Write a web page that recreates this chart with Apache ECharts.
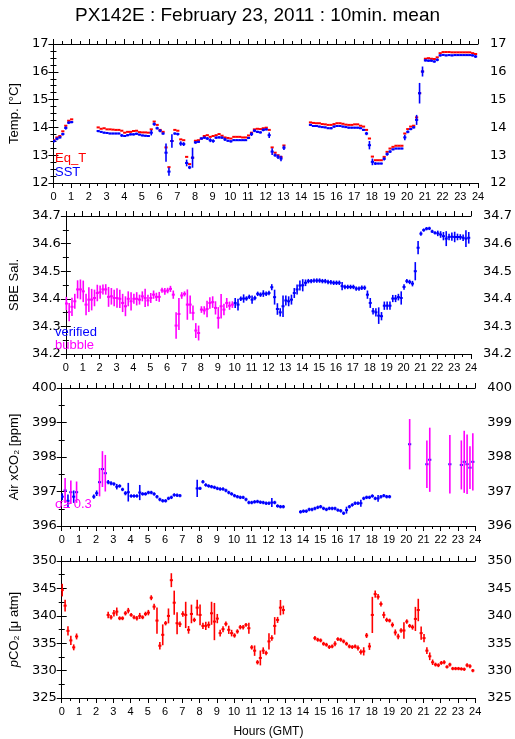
<!DOCTYPE html>
<html><head><meta charset="utf-8">
<script src="https://cdn.jsdelivr.net/npm/echarts@6/dist/echarts.min.js"></script>
<style>html,body{margin:0;padding:0;background:#fff}#c{width:515px;height:739px}</style>
</head><body><div id="c"></div>
<script>
// time of slot i = T0 + i*STEP hours (10-minute means)
const T0 = 0.03, STEP = 1/6;
const hourTicks = [0,1,2,3,4,5,6,7,8,9,10,11,12,13,14,15,16,17,18,19,20,21,22,23,24];
const _ = null;

// Panel 1: temperatures
const eqT = [13.54,13.64,13.69,13.86,14.06,14.24,14.29,_,_,_,_,_,_,_,_,
14.00,13.95,13.97,13.93,13.93,13.92,13.91,13.91,13.88,13.81,
13.84,13.84,13.87,13.88,13.83,13.82,13.82,13.81,13.93,14.21,
14.09,13.91,13.84,13.28,12.57,13.51,13.91,13.88,13.57,13.54,
12.94,12.68,12.91,13.52,13.54,13.60,13.69,13.72,13.66,13.69,
13.72,13.76,13.70,13.64,13.62,13.60,13.66,13.66,13.66,13.64,
13.64,13.71,13.81,13.93,13.95,13.94,13.97,13.99,13.91,13.28,
13.09,13.00,12.94,13.35,_,_,_,_,_,_,_,_,
14.18,14.16,14.15,14.15,14.12,14.11,14.09,14.09,14.12,14.15,
14.15,14.13,14.10,14.09,14.09,14.11,14.11,14.06,14.03,13.91,
13.60,12.95,12.82,12.82,12.82,12.94,13.12,13.24,13.30,13.34,
13.34,13.34,13.78,13.94,14.03,14.06,14.36,15.23,16.01,16.47,
16.49,16.47,16.46,16.52,16.67,16.71,16.71,16.71,16.70,16.70,
16.70,16.70,16.70,16.70,16.70,16.67,16.64];
const sst = [13.51,13.59,13.64,13.76,13.98,14.17,14.19,_,_,_,_,_,_,_,_,
13.87,13.84,13.81,13.80,13.78,13.78,13.78,13.78,13.71,13.69,
13.72,13.75,13.75,13.77,13.74,13.71,13.70,13.69,13.81,14.12,
13.97,13.88,13.78,13.09,12.41,13.51,13.78,13.76,13.42,13.40,
12.72,12.56,12.91,13.46,13.48,13.60,13.63,13.60,13.54,13.51,
13.63,13.64,13.63,13.57,13.52,13.50,13.54,13.54,13.54,13.54,
13.54,13.62,13.76,13.88,13.84,13.82,13.91,13.93,13.72,13.13,
13.00,12.94,12.88,13.27,_,_,_,_,_,_,_,_,
14.09,14.05,14.05,14.03,14.01,14.00,13.97,13.97,14.03,14.05,
14.05,14.03,14.01,13.99,13.99,13.99,13.99,13.97,13.91,13.78,
13.36,12.76,12.70,12.70,12.70,12.87,13.04,13.13,13.21,13.24,
13.24,13.24,13.64,13.84,13.94,14.00,14.27,15.23,16.01,16.41,
16.40,16.40,16.37,16.43,16.59,16.61,16.59,16.60,16.59,16.60,
16.60,16.60,16.60,16.60,16.60,16.59,16.55];
const sstSig = [0.05,0.05,0.04,0.05,0.06,0.05,0.04,_,_,_,_,_,_,_,_,
0.04,0.03,0.03,0.03,0.03,0.03,0.03,0.03,0.05,0.03,
0.04,0.04,0.04,0.04,0.03,0.03,0.03,0.03,0.10,0.06,
0.05,0.05,0.04,0.33,0.15,0.24,0.04,0.05,0.08,0.07,
0.12,0.06,0.36,0.05,0.04,0.04,0.04,0.05,0.07,0.06,
0.04,0.04,0.04,0.06,0.04,0.04,0.03,0.03,0.03,0.03,
0.03,0.04,0.07,0.05,0.04,0.04,0.05,0.04,0.10,0.12,
0.06,0.08,0.10,0.08,_,_,_,_,_,_,_,_,
0.04,0.03,0.03,0.03,0.03,0.03,0.03,0.04,0.04,0.03,
0.03,0.03,0.03,0.03,0.03,0.03,0.03,0.03,0.04,0.06,
0.15,0.12,0.05,0.03,0.03,0.06,0.06,0.05,0.03,0.03,
0.03,0.03,0.10,0.05,0.04,0.04,0.18,0.37,0.18,0.04,
0.04,0.04,0.04,0.05,0.04,0.03,0.03,0.03,0.03,0.03,
0.03,0.03,0.03,0.03,0.03,0.04,0.05];

// Panel 2: SBE salinity; bubble-flagged slots 0-59, verified slots 60-143
const salBubbleStart = 0;
const salBubble = [34.383,34.352,34.371,34.391,34.434,34.434,34.427,34.379,34.397,34.397,
34.403,34.421,34.424,34.434,34.434,34.407,34.409,34.403,34.403,34.400,
34.385,34.373,34.400,34.391,34.400,34.400,34.397,34.409,34.403,34.394,
34.403,34.415,34.407,34.407,34.431,34.427,34.430,34.436,34.415,34.303,
34.345,34.412,34.418,34.379,34.379,34.349,34.285,34.276,34.361,34.358,
34.363,34.385,34.388,34.367,34.331,34.373,34.361,34.385,34.375,34.379];
const salBubbleSig = [0.024,0.033,0.033,0.027,0.033,0.036,0.039,0.039,0.045,0.039,
0.030,0.030,0.024,0.018,0.019,0.036,0.030,0.030,0.035,0.033,
0.033,0.036,0.027,0.033,0.018,0.024,0.018,0.018,0.033,0.021,
0.018,0.015,0.015,0.018,0.009,0.012,0.010,0.011,0.015,0.048,
0.058,0.012,0.009,0.055,0.033,0.027,0.027,0.027,0.012,0.015,
0.030,0.021,0.021,0.024,0.039,0.044,0.021,0.018,0.015,0.012];
const salVerifiedStart = 60;
const salVerified = [34.385,34.379,34.400,34.401,34.401,34.407,34.397,34.403,34.418,34.415,
34.419,34.418,34.421,34.442,34.406,34.363,34.351,34.373,34.394,34.391,
34.397,34.421,34.434,34.448,34.449,34.458,34.464,34.464,34.466,34.466,
34.466,34.464,34.464,34.461,34.460,34.458,34.458,34.458,34.446,34.443,
34.443,34.443,34.443,34.437,34.437,34.440,34.440,34.415,34.385,34.355,
34.351,34.339,34.337,34.375,34.375,34.375,34.401,34.401,34.406,34.403,
34.443,34.464,34.461,34.455,34.500,34.585,34.636,34.649,34.654,34.655,
34.644,34.639,34.637,34.633,34.627,34.618,34.624,34.625,34.624,34.624,
34.624,34.621,34.618,34.621];
const salVerifiedSig = [0.018,0.021,0.008,0.015,0.008,0.008,0.015,0.008,0.008,0.008,
0.012,0.008,0.008,0.011,0.027,0.021,0.015,0.039,0.018,0.018,
0.018,0.018,0.018,0.018,0.022,0.012,0.008,0.008,0.008,0.008,
0.008,0.008,0.008,0.008,0.008,0.008,0.008,0.008,0.015,0.008,
0.008,0.008,0.008,0.008,0.008,0.008,0.008,0.015,0.018,0.012,
0.015,0.030,0.015,0.015,0.015,0.015,0.013,0.013,0.012,0.024,
0.010,0.008,0.008,0.010,0.033,0.024,0.008,0.006,0.006,0.006,
0.006,0.006,0.010,0.012,0.015,0.027,0.012,0.015,0.019,0.012,
0.010,0.012,0.030,0.021];

// Panel 3: atmospheric xCO2 (error bars magenta when sigma > 0.3)
const sigmaLimit = 0.3;
const xco2 = [396.85,397.03,396.73,396.98,396.85,396.98,_,_,_,_,_,
396.85,396.95,397.27,397.65,397.53,397.27,397.24,397.22,397.14,397.16,
397.06,396.95,396.98,396.87,396.87,396.87,396.97,396.93,396.93,396.97,
396.97,396.93,396.85,396.77,396.73,396.73,396.80,396.83,396.90,396.89,396.88,_,_,_,_,_,
397.09,397.09,397.28,397.19,397.16,397.14,397.12,397.09,397.07,397.07,
397.03,396.97,396.93,396.88,396.85,396.83,396.83,396.77,396.68,396.68,
396.70,396.71,396.69,396.68,396.66,396.66,396.68,396.68,396.58,396.56,396.56,_,_,_,_,_,
396.41,396.43,396.43,396.48,396.48,396.51,396.54,396.56,396.51,396.48,
396.51,396.51,396.51,396.46,396.44,396.37,396.46,396.56,396.61,396.66,
396.66,396.66,396.80,396.83,396.83,396.87,396.80,396.80,396.85,396.88,396.85,396.85,
_,_,_,_,_,_,398.37,_,_,_,_,_,397.79,397.92,_,_,_,_,_,_,397.79,_,_,_,
397.77,397.86,397.79,397.69,397.86];
const xco2Sig = [0.10,0.36,0.18,0.34,0.18,0.31,_,_,_,_,_,
0.06,0.08,0.41,0.52,0.53,0.06,0.06,0.05,0.08,0.05,
0.05,0.06,0.27,0.05,0.05,0.05,0.22,0.05,0.05,0.05,
0.05,0.05,0.05,0.05,0.05,0.05,0.05,0.05,0.05,0.05,0.05,_,_,_,_,_,
0.25,0.05,0.05,0.05,0.05,0.05,0.05,0.05,0.05,0.05,
0.05,0.05,0.05,0.05,0.05,0.05,0.05,0.05,0.05,0.05,
0.05,0.05,0.05,0.05,0.05,0.05,0.13,0.05,0.05,0.05,0.05,_,_,_,_,_,
0.05,0.05,0.05,0.05,0.05,0.05,0.05,0.05,0.05,0.05,
0.05,0.05,0.05,0.05,0.05,0.05,0.10,0.05,0.05,0.05,
0.05,0.10,0.05,0.05,0.05,0.05,0.05,0.10,0.05,0.05,0.05,0.05,
_,_,_,_,_,_,0.73,_,_,_,_,_,0.69,0.93,_,_,_,_,_,_,0.85,_,_,_,
0.71,0.90,0.86,0.62,0.83];

// Panel 4: seawater pCO2
const pco2 = [344.69,341.85,337.26,335.51,334.24,336.23,_,_,_,_,_,_,_,_,_,_,
340.16,339.73,340.46,340.76,339.55,339.55,340.46,340.94,340.16,339.73,
339.55,339.98,339.73,340.34,340.58,343.30,341.67,339.13,334.54,336.53,
338.65,339.98,346.50,342.39,338.65,338.47,340.34,340.16,337.44,340.34,
339.25,341.49,340.16,338.16,338.16,338.35,340.46,338.95,339.49,336.84,
337.56,338.53,337.44,336.84,336.41,337.14,337.92,337.92,338.35,337.74,
334.24,333.64,331.52,332.31,333.64,333.21,335.33,335.93,338.16,339.25,341.49,341.06,
_,_,_,_,_,_,_,_,_,_,
335.93,335.63,335.51,334.90,334.72,334.30,334.42,334.90,335.75,335.63,
335.33,334.90,334.42,334.30,334.42,334.12,333.39,333.51,336.41,334.42,
340.16,343.96,343.48,342.15,340.16,339.25,339.13,338.35,336.96,336.23,
337.32,337.32,338.95,338.16,337.92,339.43,341.06,336.84,335.93,333.64,
332.61,331.52,331.10,330.98,331.40,331.52,330.68,331.10,330.37,330.37,
330.37,330.31,330.25,330.98,330.80,330.01];
const pco2Sig = [1.15,1.06,0.85,0.85,0.54,0.54,_,_,_,_,_,_,_,_,_,_,
0.6,0.4,0.6,0.75,0.35,0.35,0.4,0.5,0.35,0.35,
0.4,0.55,0.35,0.4,0.5,0.45,0.55,2.4,0.7,1.9,
0.4,1.36,1.27,2.2,2.0,0.5,0.5,2.4,0.7,1.7,
0.4,1.45,1.9,0.55,0.75,0.6,2.1,3.4,0.85,0.6,
0.55,0.45,0.75,0.6,0.4,0.4,0.4,0.4,0.35,1.0,
0.4,0.95,0.4,1.36,0.6,0.4,1.5,0.5,1.6,0.55,1.4,0.8,
_,_,_,_,_,_,_,_,_,_,
0.4,0.35,0.35,0.35,0.35,0.35,0.35,0.45,0.35,0.35,
0.35,0.35,0.35,0.35,0.35,0.45,0.45,0.75,0.45,0.65,
3.3,0.65,0.5,0.45,0.6,0.4,0.35,0.45,0.55,0.5,
0.4,1.5,0.4,0.35,0.45,2.2,2.05,1.2,0.75,0.6,
0.7,0.5,0.35,0.35,0.35,0.35,0.3,0.35,0.3,0.3,
0.3,0.3,0.3,0.35,0.35,0.3];

// ---------- chart construction ----------
function build(vals, sigs, start) {
  const out = [];
  vals.forEach((v, k) => {
    if (v === null || v === undefined) return;
    const s = sigs ? (sigs[k] == null ? 0 : sigs[k]) : 0;
    out.push([T0 + (start + k) * STEP, v, s]);
  });
  return out;
}
const RED = '#ff0000', BLUE = '#0000ff', MAG = '#ff00ff';
const HW = 0.09;
function errSeries(data, idx, color, errColorFn, z) {
  return {
    type: 'custom', xAxisIndex: idx * 2, yAxisIndex: idx * 2, data: data, z: z || 2,
    encode: { x: 0, y: 1 }, silent: true, animation: false, clip: true,
    renderItem: function (params, api) {
      const t = api.value(0), v = api.value(1), s = api.value(2);
      const a = api.coord([t - HW, v]), b = api.coord([t + HW, v]);
      const ch = [{ type: 'line', shape: { x1: a[0], y1: a[1], x2: b[0], y2: b[1] },
        style: { stroke: color, lineWidth: 2 } }];
      if (s > 0) {
        const c = api.coord([t, v + s]), d = api.coord([t, v - s]);
        ch.push({ type: 'line', shape: { x1: c[0], y1: c[1], x2: d[0], y2: d[1] },
          style: { stroke: errColorFn ? errColorFn(s) : color, lineWidth: 1.6 } });
      }
      return { type: 'group', children: ch };
    }
  };
}

const tops = [44, 216, 388, 561], heights = [139, 138, 138, 138];
const yCfg = [
  { min: 12, max: 17, interval: 1, minor: 4, fmt: v => String(v), name: 'Temp. [°C]', gap: 27 },
  { min: 34.2, max: 34.7, interval: 0.1, minor: 2, fmt: v => v.toFixed(1), name: 'SBE Sal.', gap: 41 },
  { min: 396, max: 400, interval: 1, minor: 2, fmt: v => String(Math.round(v)), name: 'Air xCO₂ [ppm]', gap: 36 },
  { min: 325, max: 350, interval: 5, minor: 2, fmt: v => String(Math.round(v)), name: '{i|p}CO₂ [μ atm]', gap: 35 }
];
const FONT = 'Liberation Sans, Arial, sans-serif';
const axLine = { show: true, lineStyle: { color: '#000', width: 1 } };
const grid = [], xAxis = [], yAxis = [];
for (let k = 0; k < 4; k++) {
  grid.push({ left: 52, right: 37, top: tops[k], height: heights[k], containLabel: false });
  const xb = {
    type: 'value', gridIndex: k, min: hourTicks[0], max: hourTicks[hourTicks.length - 1], interval: 1,
    position: 'bottom', axisLine: axLine, splitLine: { show: false },
    axisTick: { show: true, inside: false, length: 5, lineStyle: { color: '#000' } },
    minorTick: { show: true, splitNumber: 2, length: 3, lineStyle: { color: '#000' } },
    axisLabel: { show: true, margin: 8, color: '#000', fontSize: 11, fontFamily: FONT, showMinLabel: true, showMaxLabel: true }
  };
  if (k === 3) {
    xb.name = 'Hours (GMT)'; xb.nameLocation = 'middle'; xb.nameGap = 28;
    xb.nameTextStyle = { color: '#000', fontSize: 12, fontFamily: FONT };
  }
  xAxis.push(xb);
  xAxis.push({
    type: 'value', gridIndex: k, min: 0, max: 24, interval: 1, position: 'top',
    axisLine: axLine, splitLine: { show: false }, axisLabel: { show: false },
    axisTick: { show: true, inside: false, length: 5, lineStyle: { color: '#000' } },
    minorTick: { show: true, splitNumber: 2, length: 3, lineStyle: { color: '#000' } }
  });
  const c = yCfg[k];
  const common = {
    type: 'value', gridIndex: k, min: c.min, max: c.max, interval: c.interval,
    axisLine: axLine, splitLine: { show: false },
    axisTick: { show: true, inside: false, length: 5, lineStyle: { color: '#000' } },
    minorTick: { show: true, splitNumber: c.minor, length: 3, lineStyle: { color: '#000' } }
  };
  yAxis.push(Object.assign({}, common, {
    position: 'left',
    axisLabel: { margin: 5, color: '#000', fontSize: 13, fontFamily: 'DejaVu Sans, sans-serif', formatter: c.fmt },
    name: c.name, nameLocation: 'middle', nameGap: c.gap, nameRotate: 90,
    nameTextStyle: { color: '#000', fontSize: 13, fontFamily: FONT, rich: { i: { fontStyle: 'italic', fontSize: 13, fontFamily: FONT } } }
  }));
  yAxis.push(Object.assign({}, common, {
    position: 'right',
    axisLabel: { margin: 12, color: '#000', fontSize: 13, fontFamily: 'DejaVu Sans, sans-serif', formatter: c.fmt }
  }));
}

const series = [
  errSeries(build(eqT, null, 0), 0, RED, null, 2),
  errSeries(build(sst, sstSig, 0), 0, BLUE, null, 3),
  errSeries(build(salBubble, salBubbleSig, salBubbleStart), 1, MAG, null, 2),
  errSeries(build(salVerified, salVerifiedSig, salVerifiedStart), 1, BLUE, null, 3),
  errSeries(build(xco2, xco2Sig, 0), 2, BLUE, s => (s > sigmaLimit ? MAG : BLUE), 2),
  errSeries(build(pco2, pco2Sig, 0), 3, RED, null, 2)
];

const txt = (x, y, s, color) => ({ type: 'text', left: x, top: y, silent: true, z: 10,
  style: { text: s, fill: color, fontSize: 13, fontFamily: FONT } });

const chart = echarts.init(document.getElementById('c'), null, { renderer: 'canvas' });
chart.setOption({
  animation: false,
  backgroundColor: '#fff',
  title: { text: 'PX142E : February 23, 2011 : 10min. mean', left: 'center', top: 1,
    textStyle: { fontSize: 19, fontWeight: 'normal', color: '#000', fontFamily: FONT } },
  grid, xAxis, yAxis, series,
  graphic: [
    txt(55, 152, 'Eq_T', RED),
    txt(55, 166, 'SST', BLUE),
    txt(55, 326, 'verified', BLUE),
    txt(55, 339, 'bubble', MAG),
    txt(55, 498, 'σ≥ 0.3', MAG)
  ]
});
</script></body></html>
